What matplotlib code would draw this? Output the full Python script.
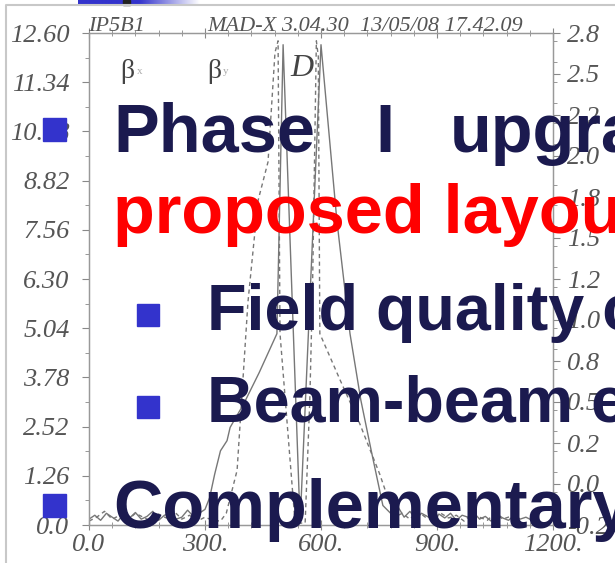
import numpy as np
import matplotlib
matplotlib.use("Agg")
import matplotlib.pyplot as plt
from matplotlib.ticker import FixedLocator, MultipleLocator
from matplotlib.patches import Rectangle
from matplotlib.lines import Line2D

# beta_x (solid line, left axis)
bx_s = [0, 15, 30, 45, 60, 75, 90, 105, 120, 135,
        150, 165, 180, 195, 210, 225, 240, 255, 270, 285,
        300, 312, 325, 340, 357, 365, 400, 440, 486, 502,
        546, 600, 641, 675, 703, 730, 760, 785, 800, 815,
        830, 845, 860, 875, 890, 905, 920, 935, 950, 965,
        980, 995, 1010, 1025, 1040, 1055, 1070, 1085, 1100, 1115,
        1130, 1150]
bx_v = [0.15, 0.25, 0.12, 0.3, 0.2, 0.1, 0.28, 0.18, 0.32, 0.15,
        0.22, 0.35, 0.12, 0.25, 0.3, 0.15, 0.2, 0.38, 0.22, 0.3,
        0.4, 0.7, 1.3, 1.9, 2.16, 2.5, 3.1, 3.9, 4.9, 12.3,
        0.05, 12.3, 7.8, 4.9, 3.2, 1.9, 0.5, 0.25, 0.45, 0.2,
        0.35, 0.15, 0.3, 0.22, 0.12, 0.28, 0.18, 0.3, 0.12, 0.25,
        0.2, 0.32, 0.15, 0.22, 0.1, 0.28, 0.18, 0.12, 0.25, 0.15,
        0.2, 0.1]

# beta_y (dashed line, left axis)
by_s = [0, 20, 40, 60, 80, 100, 120, 140, 160, 180,
        200, 220, 240, 260, 280, 300, 320, 340, 355, 383,
        411, 437, 463, 481, 489, 494, 533, 559, 571, 578,
        588, 593, 597, 650, 700, 752, 790, 810, 830, 850,
        870, 890, 910, 930, 950, 970, 990, 1010, 1030, 1050,
        1070, 1090, 1110]
by_v = [0.1, 0.2, 0.35, 0.15, 0.25, 0.12, 0.3, 0.2, 0.1, 0.28,
        0.18, 0.35, 0.15, 0.25, 0.1, 0.2, 0.12, 0.1, 0.3, 1.4,
        5.7, 8.3, 9.3, 12.1, 12.4, 4.9, 0.05, 0.05, 3.2, 6.0,
        12.4, 12.0, 4.9, 3.7, 2.6, 1.3, 0.2, 0.3, 0.15, 0.35,
        0.2, 0.12, 0.3, 0.18, 0.25, 0.1, 0.28, 0.2, 0.12, 0.3,
        0.15, 0.22, 0.1]

left_ticks = [0.0, 1.26, 2.52, 3.78, 5.04, 6.30, 7.56, 8.82, 10.08, 11.34, 12.60]
left_labels = ["0.0", "1.26", "2.52", "3.78", "5.04", "6.30", "7.56", "8.82", "10.08", "11.34", "12.60"]
right_ticks = [-0.2, 0.05, 0.3, 0.55, 0.8, 1.05, 1.3, 1.55, 1.8, 2.05, 2.3, 2.55, 2.8]
right_labels = ["-0.2", "0.0", "0.2", "0.5", "0.8", "1.0", "1.2", "1.5", "1.8", "2.0", "2.2", "2.5", "2.8"]
x_ticks = [0, 300, 600, 900, 1200]
x_labels = ["0.0", "300.", "600.", "900.", "1200."]

W, H = 615, 563
fig = plt.figure(figsize=(W / 100, H / 100), dpi=100)
fig.patch.set_facecolor("white")

def fx(px):
    return px / W

def fy(py):
    return 1 - py / H

grey = "#555555"
serif = "Liberation Serif"

# MAD-X plot
ax = fig.add_axes([fx(89), fy(525), fx(553) - fx(89), fy(33) - fy(525)])
ax.plot(bx_s, bx_v, color="#777777", lw=1.0, ls="-")
ax.plot(by_s, by_v, color="#777777", lw=1.0, ls=(0, (3, 2.5)))
ax.set_xlim(0, 1200)
ax.set_ylim(0, 12.6)
ax.yaxis.set_major_locator(FixedLocator(left_ticks))
ax.set_yticklabels(left_labels)
ax.yaxis.set_minor_locator(MultipleLocator(0.63))
ax.xaxis.set_major_locator(FixedLocator(x_ticks))
ax.set_xticklabels(x_labels)
ax.xaxis.set_minor_locator(MultipleLocator(60))
ax.tick_params(axis="y", which="both", direction="out", color="#888888",
               labelcolor=grey, labelsize=19, pad=9)
ax.tick_params(axis="y", which="major", length=5)
ax.tick_params(axis="y", which="minor", length=3)
ax.tick_params(axis="x", which="both", direction="inout", color="#888888",
               labelcolor=grey, labelsize=19, pad=3, top=True)
ax.tick_params(axis="x", which="major", length=7)
ax.tick_params(axis="x", which="minor", length=4)
for lab in ax.get_xticklabels() + ax.get_yticklabels():
    lab.set_fontfamily(serif)
    lab.set_fontstyle("italic")
for sp in ax.spines.values():
    sp.set_color("#999999")
    sp.set_linewidth(1.0)

ax2 = ax.twinx()
ax2.set_ylim(-0.2, 2.8)
ax2.yaxis.set_major_locator(FixedLocator(right_ticks))
ax2.set_yticklabels(right_labels)
ax2.yaxis.set_minor_locator(MultipleLocator(0.125))
ax2.tick_params(axis="y", which="both", direction="out", color="#888888",
                labelcolor=grey, labelsize=19, pad=5)
ax2.tick_params(axis="y", which="major", length=5)
ax2.tick_params(axis="y", which="minor", length=3)
for lab in ax2.get_yticklabels():
    lab.set_fontfamily(serif)
    lab.set_fontstyle("italic")
for sp in ax2.spines.values():
    sp.set_color("#999999")

# header of the MAD-X plot
fig.text(fx(88), fy(31), "IP5B1", fontsize=16, family=serif, style="italic", color=grey)
fig.text(fx(207), fy(31), "MAD-X 3.04.30  13/05/08 17.42.09", fontsize=16,
         family=serif, style="italic", color=grey)
fig.text(fx(120), fy(78), "\u03b2", fontsize=20, family=serif, color="#444444")
fig.text(fx(137), fy(74), "x", fontsize=8, family=serif, color="#aaaaaa")
fig.text(fx(207), fy(78), "\u03b2", fontsize=20, family=serif, color="#444444")
fig.text(fx(223), fy(74), "y", fontsize=8, family=serif, color="#aaaaaa")
fig.text(fx(290), fy(76), "D", fontsize=23, family=serif, style="italic", color="#444444")

# slide frame and top bar
fig.add_artist(Line2D([fx(6), fx(6), fx(615)], [fy(563), fy(5), fy(5)],
                      color="#c8c8c8", lw=1.5))
bar = fig.add_axes([fx(78), fy(5), fx(200) - fx(78), fy(0) - fy(5)])
g = np.clip((np.linspace(0, 1, 200) - 0.5) / 0.5, 0, 1)
blue = np.array([0.2, 0.2, 0.8])
rgb = blue[None, :] * (1 - g[:, None]) + g[:, None]
bar.imshow(rgb[None, :, :], aspect="auto")
bar.set_axis_off()
fig.add_artist(Rectangle((fx(123), fy(5)), fx(7), fy(0) - fy(5), color="#222222"))

# slide text
navy = "#1b1a4f"
bullet = "#3333cc"
bold = dict(family="Liberation Sans", weight="bold", va="baseline")

def square(cx, cy, s=23):
    fig.add_artist(Rectangle((fx(cx - s / 2), fy(cy + s / 2)), fx(s), fy(0) - fy(s),
                             color=bullet, zorder=10))

square(54, 129)
fig.text(fx(113), fy(152), "Phase", fontsize=49.3, color=navy, **bold)
fig.text(fx(375), fy(152), "I", fontsize=49.3, color=navy, **bold)
fig.text(fx(450), fy(152), "upgrade", fontsize=49.3, color=navy, **bold)
fig.text(fx(113), fy(233), "proposed layout", fontsize=49.3, color="#ff0000", **bold)
square(148, 315, 22)
fig.text(fx(207), fy(330), "Field quality constraints", fontsize=46.5, color=navy, **bold)
square(148, 407, 22)
fig.text(fx(207), fy(422), "Beam-beam effects", fontsize=46.5, color=navy, **bold)
square(54, 505)
fig.text(fx(113), fy(528), "Complementary", fontsize=49.3, color=navy, **bold)

fig.savefig("out.png", dpi=100)
